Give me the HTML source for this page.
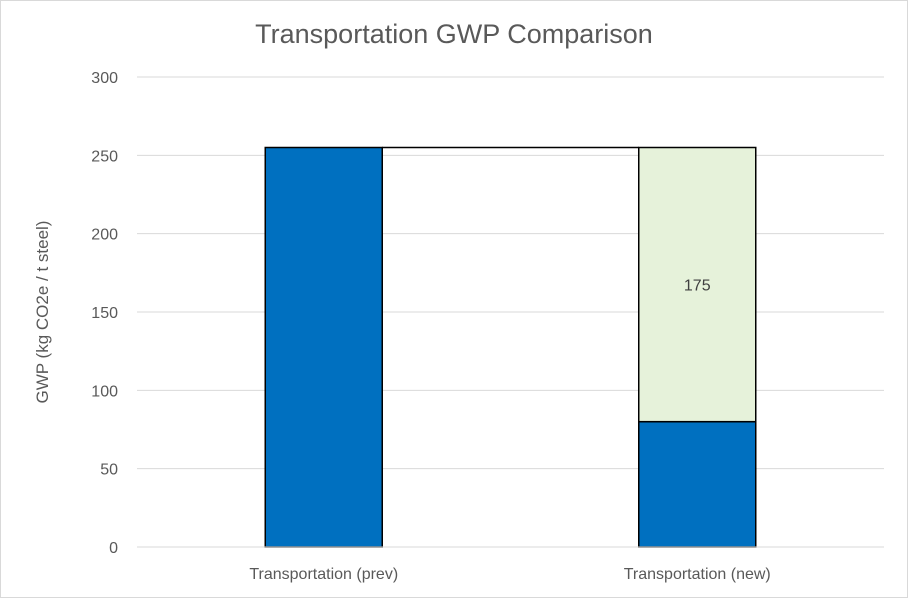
<!DOCTYPE html>
<html><head><meta charset="utf-8"><style>
body{margin:0;background:#fff;}
svg{display:block;font-family:"Liberation Sans",sans-serif;}
</style></head><body>
<svg id="chart" width="908" height="598">
<rect x="0.5" y="0.5" width="907" height="597" fill="#fff" stroke="#d9d9d9"/>
<text x="454" y="43" text-anchor="middle" font-size="27" fill="#595959">Transportation GWP Comparison</text>
<text transform="translate(48,312) rotate(-90)" text-anchor="middle" font-size="17" fill="#595959">GWP (kg CO2e / t steel)</text>
<g id="grid"></g><g id="bars"></g>
</svg>
<script>
const categories=["Transportation (prev)","Transportation (new)"];
const baseValues=[255,80];
const addValues=[0,175];
const yTicks=[0,50,100,150,200,250,300];
const connectorValue=255;
const ns="http://www.w3.org/2000/svg";
const L=137,R=884,T=77,B=547,yMax=300;
const y=v=>B-(v/yMax)*(B-T);
const band=(R-L)/categories.length;
const xc=i=>L+band*(i+0.5);
const bw=117;
function mk(tag,attrs,parent){const e=document.createElementNS(ns,tag);for(const k in attrs)e.setAttribute(k,attrs[k]);parent.appendChild(e);return e;}
const grid=document.getElementById('grid'),bars=document.getElementById('bars');
yTicks.forEach(t=>{
 const l=mk('line',{x1:L,x2:R,y1:y(t),y2:y(t),stroke:'#d9d9d9','stroke-width':1},grid);
 
 
 const tx=mk('text',{x:118,y:y(t)+6,'text-anchor':'end','font-size':16,fill:'#595959'},grid);
 tx.textContent=t;
 
 
});
categories.forEach((c,i)=>{
 const x0=xc(i)-bw/2;
 const b=mk('rect',{x:x0,y:y(baseValues[i]),width:bw,height:y(0)-y(baseValues[i]),fill:'#0070c0',stroke:'#000','stroke-width':1.5},bars);
 
 
 if(addValues[i]>0){
  const top=baseValues[i]+addValues[i];
  const a=mk('rect',{x:x0,y:y(top),width:bw,height:y(baseValues[i])-y(top),fill:'#e6f2da',stroke:'#000','stroke-width':1.5},bars);
  
  
  const lb=mk('text',{x:xc(i),y:(y(top)+y(baseValues[i]))/2+6,'text-anchor':'middle','font-size':16,fill:'#404040'},bars);
  lb.textContent=addValues[i];
  
  
 }
 const cl=mk('text',{x:xc(i),y:579,'text-anchor':'middle','font-size':16,fill:'#595959'},bars);
 cl.textContent=c;
 
 
});
const cn=mk('line',{x1:xc(0)+bw/2,x2:xc(1)-bw/2,y1:y(connectorValue),y2:y(connectorValue),stroke:'#000','stroke-width':1.5},bars);


const ax=mk('line',{x1:L,x2:R,y1:B,y2:B,stroke:'#d9d9d9','stroke-width':1},bars);


</script>
</body></html>
